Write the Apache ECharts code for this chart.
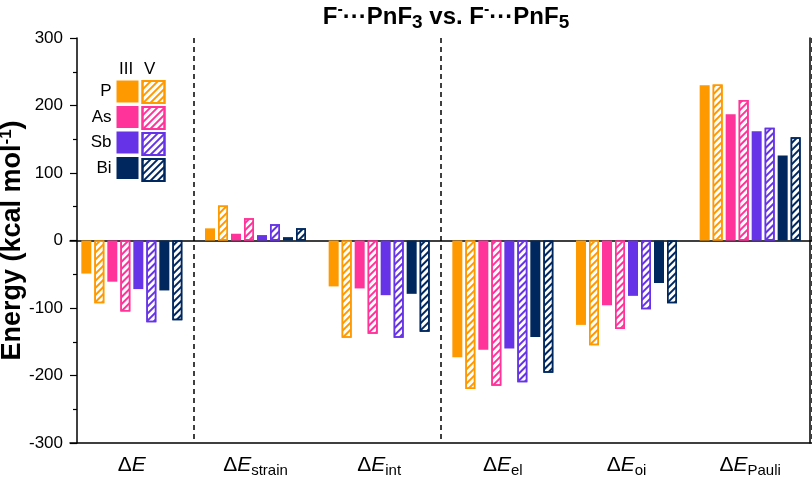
<!DOCTYPE html>
<html>
<head>
<meta charset="utf-8">
<script src="https://cdn.jsdelivr.net/npm/echarts@6/dist/echarts.min.js"></script>
<style>
  html, body { margin: 0; padding: 0; background: #fff; }
  #chart { width: 812px; height: 480px; }
</style>
</head>
<body>
<div id="chart"></div>
<script>
// energy terms (x categories) and their subscripts
const categories = ['ΔE', 'ΔEstrain', 'ΔEint', 'ΔEel', 'ΔEoi', 'ΔEPauli']
const catSubs = ['', 'strain', 'int', 'el', 'oi', 'Pauli']

// kcal/mol, III = PnF3, V = PnF5
const P_III = [-49, 18, -68, -173, -125, 230]
const P_V = [-93, 52, -144, -220, -155, 231]
const As_III = [-61, 10, -71, -162, -96, 187]
const As_V = [-105, 33, -138, -215, -131, 208]
const Sb_III = [-72, 8, -81, -160, -82, 162]
const Sb_V = [-121, 24, -144, -210, -102, 167]
const Bi_III = [-74, 5, -79, -143, -63, 126]
const Bi_V = [-118, 18, -135, -196, -93, 153]

const yTicks = [-300, -200, -100, 0, 100, 200, 300]

const elements = ['P', 'As', 'Sb', 'Bi']
const colors = ['#FF9900', '#FF3399', '#6633E6', '#00285F']
const solidData = [P_III, As_III, Sb_III, Bi_III]
const hatchData = [P_V, As_V, Sb_V, Bi_V]

const FONT = 'Liberation Sans, Arial, sans-serif'
const chart = echarts.init(document.getElementById('chart'))

const series = []
elements.forEach((el, i) => {
  series.push({
    name: el,
    type: 'bar',
    data: solidData[i],
    barWidth: 10,
    barGap: '30%',
    itemStyle: { color: colors[i] },
  })
  series.push({
    name: el + ' V',
    type: 'bar',
    data: hatchData[i],
    barWidth: 10,
    barGap: '30%',
    itemStyle: {
      color: '#fff',
      borderColor: colors[i],
      borderWidth: 1.5,
      decal: {
        symbol: 'rect',
        symbolSize: 1,
        color: colors[i],
        dashArrayX: [1, 0],
        dashArrayY: [2, 3],
        rotation: -Math.PI / 4,
      },
    },
  })
})

const option = {
  animation: false,
  textStyle: { fontFamily: FONT },
  title: {
    left: 441,
    top: -3,
    textAlign: 'center',
    text: '{a|F}{sup|-}{a|···PnF}{sub|3}{a| vs. F}{sup|-}{a|···PnF}{sub|5}',
    textStyle: {
      rich: {
        a: { fontSize: 24, fontWeight: 'bold', color: '#000', lineHeight: 30, verticalAlign: 'middle', fontFamily: FONT },
        sup: { fontSize: 16, fontWeight: 'bold', color: '#000', lineHeight: 12, verticalAlign: 'top', fontFamily: FONT },
        sub: { fontSize: 19, fontWeight: 'bold', color: '#000', lineHeight: 15, verticalAlign: 'bottom', fontFamily: FONT },
      },
    },
  },
  legend: [
    {
      data: elements,
      orient: 'vertical',
      right: 812 - 138.5,
      top: 80.5,
      padding: 0,
      itemWidth: 22,
      itemHeight: 22,
      itemGap: 3.5,
      align: 'right',
      icon: 'rect',
      selectedMode: false,
      textStyle: { fontSize: 17, color: '#000', fontFamily: FONT },
    },
    {
      data: elements.map((e) => e + ' V'),
      orient: 'vertical',
      left: 141.5,
      top: 80,
      padding: 0,
      itemWidth: 22,
      itemHeight: 22,
      itemGap: 2,
      icon: 'rect',
      selectedMode: false,
      formatter: () => '',
    },
  ],
  graphic: [
    { type: 'text', left: 119, top: 61, style: { text: 'III', fontSize: 17, fill: '#000', fontFamily: FONT } },
    { type: 'text', left: 144, top: 61, style: { text: 'V', fontSize: 17, fill: '#000', fontFamily: FONT } },
  ],
  grid: { left: 70, right: 0, top: 38, bottom: 37, outerBoundsMode: 'none' },
  xAxis: [
    {
      type: 'category',
      data: categories,
      axisLine: { onZero: false, lineStyle: { color: '#000', width: 1.5 } },
      axisTick: { show: false },
      splitLine: {
        show: true,
        interval: (i) => i === 1 || i === 3,
        lineStyle: { color: '#000', width: 1.5, type: [5, 4] },
      },
      axisLabel: {
        interval: 0,
        margin: 9,
        formatter: (v, i) => '{d|Δ}{e|E}' + (catSubs[i] ? '{s|' + catSubs[i] + '}' : ''),
        rich: {
          d: { fontSize: 21, color: '#000', lineHeight: 26, verticalAlign: 'middle', fontFamily: FONT },
          e: { fontSize: 21, fontStyle: 'italic', color: '#000', lineHeight: 26, verticalAlign: 'middle', fontFamily: FONT },
          s: { fontSize: 15, color: '#000', lineHeight: 12, verticalAlign: 'bottom', fontFamily: FONT },
        },
      },
    },
    {
      type: 'category',
      data: categories,
      axisLine: { onZero: true, lineStyle: { color: '#000', width: 1.5 } },
      axisTick: { show: false },
      axisLabel: { show: false },
    },
  ],
  yAxis: [
    {
      type: 'value',
      min: yTicks[0],
      max: yTicks[yTicks.length - 1],
      interval: 100,
      offset: -7,
      name: '{n|Energy (kcal mol}{sup|-1}{n|)}',
      nameLocation: 'middle',
      nameGap: 49,
      nameMoveOverlap: false,
      nameTextStyle: {
        rich: {
          n: { fontSize: 27, fontWeight: 'bold', color: '#000', lineHeight: 30, verticalAlign: 'middle', fontFamily: FONT },
          sup: { fontSize: 17, fontWeight: 'bold', color: '#000', lineHeight: 14, verticalAlign: 'top', fontFamily: FONT },
        },
      },
      axisLine: { show: true, lineStyle: { color: '#000', width: 1.5 } },
      axisTick: { show: true, length: 7, lineStyle: { color: '#000', width: 1.2 } },
      minorTick: { show: true, splitNumber: 2, length: 4, lineStyle: { color: '#000', width: 1.2 } },
      splitLine: { show: false },
      axisLabel: { fontSize: 17, color: '#000', margin: 14, fontFamily: FONT },
    },
    {
      type: 'value',
      position: 'right',
      min: yTicks[0],
      max: yTicks[yTicks.length - 1],
      interval: 100,
      offset: -2,
      axisLine: { show: true, lineStyle: { color: '#000', width: 1.5 } },
      axisTick: { show: false },
      axisLabel: { show: false },
      splitLine: { show: false },
    },
  ],
  series: series,
}

chart.setOption(option)
window.addEventListener('resize', () => chart.resize())
</script>
</body>
</html>
